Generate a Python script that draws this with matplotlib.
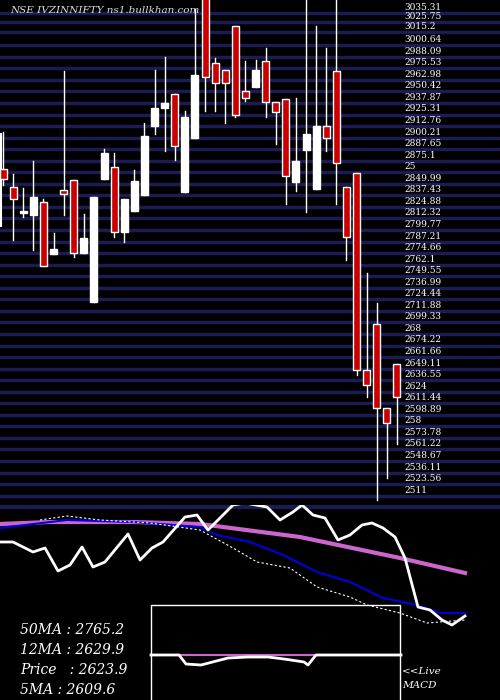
import matplotlib
matplotlib.use("Agg")
import matplotlib.pyplot as plt
from matplotlib.patches import Rectangle

# candle data (open, high, low, close)
opens  = [2862.1,2842.5,2814.3,2812.1,2826.2,2769.7,2839.3,2850.1,2770.8,2717.5,
          2851.2,2864.3,2793.6,2816.4,2833.8,2908.8,2928.4,2943.6,2837.1,2895.8,
          3049.1,2977.3,2969.7,3017.5,2946.9,2951.2,2979.5,2934.9,2938.2,2848.0,
          2882.8,2840.4,2908.8,2968.6,2842.5,2857.7,2643.6,2693.6,2602.3,2650.1]
highs  = [2902.3,2856.7,2841.4,2870.8,2829.5,2792.5,2968.6,2850.1,2813.2,2831.7,
          2883.8,2879.5,2829.5,2861.0,2912.1,2969.7,2983.8,2943.6,2925.1,3036.0,
          3060.0,2982.8,2969.7,3017.5,2979.5,2980.6,2993.6,2934.9,2938.2,2939.3,
          3060.0,3017.5,2993.6,3060.0,2842.5,2857.7,2749.1,2716.4,2602.3,2650.1]
lows   = [2844.7,2785.0,2809.9,2774.1,2756.7,2769.7,2812.1,2766.4,2770.8,2717.5,
          2851.2,2788.2,2782.8,2816.4,2833.8,2900.1,2881.7,2871.9,2837.1,2895.8,
          2925.1,2925.1,2912.1,2918.6,2936.0,2951.2,2918.6,2889.3,2824.1,2838.2,
          2815.4,2840.4,2881.7,2824.1,2763.2,2638.2,2614.3,2502.3,2526.2,2563.2]
closes = [2851.2,2829.5,2816.4,2831.7,2756.7,2775.1,2834.9,2770.8,2787.1,2831.7,
          2879.5,2793.6,2829.5,2849.1,2898.0,2928.4,2933.8,2887.1,2918.6,2964.3,
          2962.1,2955.6,2955.6,2920.8,2939.3,2969.7,2934.9,2924.1,2854.5,2870.8,
          2900.1,2908.8,2895.8,2868.6,2788.2,2643.6,2627.3,2602.3,2586.0,2614.3]

price_labels = ["3035.31","3025.75","3015.2","3000.64","2988.09","2975.53","2962.98",
    "2950.42","2937.87","2925.31","2912.76","2900.21","2887.65","2875.1","25","2849.99",
    "2837.43","2824.88","2812.32","2799.77","2787.21","2774.66","2762.1","2749.55",
    "2736.99","2724.44","2711.88","2699.33","268","2674.22","2661.66","2649.11",
    "2636.55","2624","2611.44","2598.89","258","2573.78","2561.22","2548.67","2536.11",
    "2523.56","2511"]
price_levels = [3035.31,3025.75,3015.2,3000.64,2988.09,2975.53,2962.98,2950.42,2937.87,
    2925.31,2912.76,2900.21,2887.65,2875.1,2862.53,2849.99,2837.43,2824.88,2812.32,
    2799.77,2787.21,2774.66,2762.1,2749.55,2736.99,2724.44,2711.88,2699.33,2686.77,
    2674.22,2661.66,2649.11,2636.55,2624,2611.44,2598.89,2586.33,2573.78,2561.22,
    2548.67,2536.11,2523.56,2511]

# lower panel lines (panel units, x in panel px, y in panel px downward)
px_x = [0,13,33,45,58,70,82,93,105,128,140,152,163,185,197,208,233,245,267,280,293,302,313,325,338,350,362,372,383,395,405,418,430,442,452,465]
px_y = [37,37,47,43,66,60,42,62,57,29,55,43,37,12,10,25,0,-2,2,15,7,0,10,13,35,30,20,18,23,32,53,102,105,115,120,111]
ma50_x = [0,50,133,200,300,400,465]
ma50_y = [19,17,17,19,32,53,68]
ma12_x = [0,67,133,200,217,250,283,317,350,383,417,440,465]
ma12_y = [23,15,17,22,30,37,50,67,77,93,100,108,108]
ma5_x = [40,67,100,150,200,233,257,290,317,350,367,400,427,465]
ma5_y = [15,11,15,18,25,43,57,63,82,92,100,108,118,115]
macd_x = [0,28,35,50,77,97,117,133,153,157,165,210,250]
macd_y = [0,0,9,10,3,2,2,4,7,10,0,0,0]

fig = plt.figure(figsize=(5, 7), dpi=100, facecolor="black")
ax = fig.add_axes([0, 1 - 505/700, 1, 505/700])
ax.set_facecolor("black")
ax.set_xlim(0, 500)
ax.set_ylim(2511 - 13/0.92, 2511 + 492/0.92)
ax.axis("off")
for lv, lb in zip(price_levels, price_labels):
    ax.axhline(lv - 4, color="#1c1c55", lw=2.5, zorder=1)
    ax.text(404, lv + 2, lb, color="white", fontsize=6.5, family="DejaVu Serif",
            va="center", ha="left", zorder=3)
ax.plot([1, 1], [2800, 2900], color="white", lw=1.5)
w = 7
for i, (o, h, l, c) in enumerate(zip(opens, highs, lows, closes)):
    x = 3 + 10.1 * i
    col = "white" if c >= o else "#cc0000"
    ax.plot([x, x], [l, h], color="white", lw=1, zorder=2)
    ax.add_patch(Rectangle((x - w/2, min(o, c)), w, max(abs(c - o), 1.5),
                           facecolor=col, edgecolor="white", lw=1, zorder=2.5))
ax.text(10, 3034, "NSE IVZINNIFTY ns1.bullkhan.com", color="#dddddd", fontsize=7.5,
        style="italic", family="DejaVu Serif", va="center")

ax2 = fig.add_axes([0, 0, 1, 195/700])
ax2.set_facecolor("black")
ax2.set_xlim(0, 500)
ax2.set_ylim(195, 0)
ax2.axis("off")
ax2.axhline(2, color="#1c1c55", lw=3)
ax2.plot(ma50_x, ma50_y, color="#cc66cc", lw=3)
ax2.plot(ma12_x, ma12_y, color="#0000dd", lw=1.5)
ax2.plot(ma5_x, ma5_y, color="white", lw=0.8, ls=(0, (2, 2)))
ax2.plot(px_x, px_y, color="white", lw=2)
ax2.add_patch(Rectangle((151, 100), 249, 100, facecolor="black", edgecolor="white", lw=1))
ax2.plot([178, 400], [150, 150], color="#cc66cc", lw=1.5)
ax2.plot([151 + v for v in macd_x], [150 + v for v in macd_y], color="white", lw=2)
for j, t in enumerate(["50MA : 2765.2", "12MA : 2629.9", "Price   : 2623.9", "5MA : 2609.6"]):
    ax2.text(20, 125 + 20 * j, t, color="white", fontsize=10, style="italic",
             family="DejaVu Serif", va="center")
ax2.text(402, 166, "<<Live", color="white", fontsize=7.5, style="italic", family="DejaVu Serif", va="center")
ax2.text(402, 181, "MACD", color="white", fontsize=7.5, style="italic", family="DejaVu Serif", va="center")

fig.savefig("out.png", dpi=100, facecolor="black")
